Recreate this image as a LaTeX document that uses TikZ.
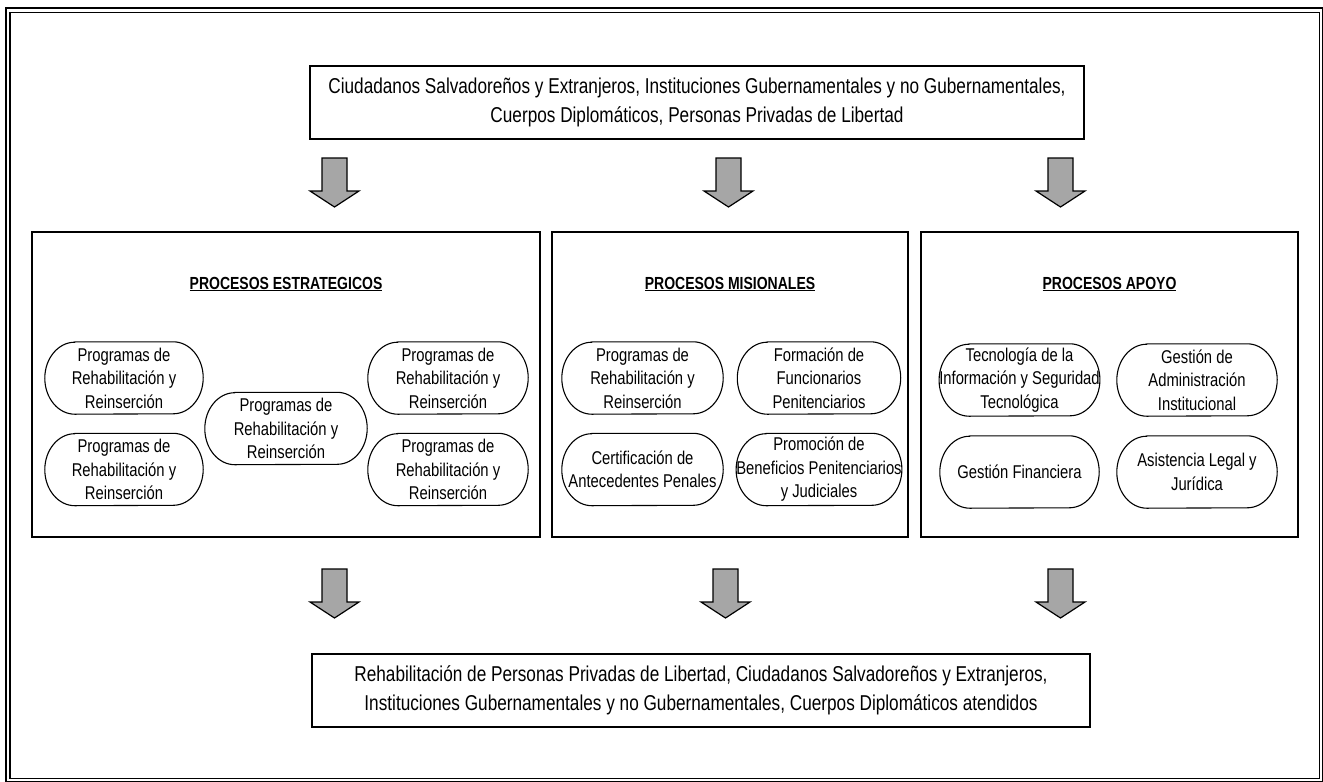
\documentclass[tikz,border=0pt]{standalone}
\usepackage{fontspec}
\setmainfont{Liberation Sans}[FakeStretch=0.80]
\definecolor{arrowgray}{HTML}{A6A6A6}
% stadium outline with elliptic ends around a process node
\newcommand\stadium[1]{%
  \draw[procline] ([xshift=30pt]#1.north west) -- ([xshift=-30pt]#1.north east)
    arc[start angle=90,end angle=-90,x radius=30pt,y radius=36pt]
    -- ([xshift=30pt]#1.south west)
    arc[start angle=270,end angle=90,x radius=30pt,y radius=36pt] -- cycle;}
\begin{document}
\begin{tikzpicture}[x=1pt,y=-1pt,
  frameline/.style={draw=black,line width=1.2pt},
  bigbox/.style={draw=black,line width=1.2pt,align=center,inner sep=0pt,
    font=\fontsize{21.5}{29.5}\selectfont},
  groupbox/.style={draw=black,line width=1.2pt,inner sep=0pt},
  grouptitle/.style={inner sep=0pt,font=\fontsize{17.5}{20}\selectfont\bfseries},
  proc/.style={align=center,inner sep=0pt,minimum height=72pt,
    font=\fontsize{18.5}{23.5}\selectfont},
  procline/.style={draw=black,line width=1.1pt},
  downarrow/.pic={
    \draw[fill=arrowgray,line width=1.2pt,line join=miter]
      (-12.5,0) -- (12.5,0) -- (12.5,33) -- (24.5,33) -- (0,49)
      -- (-24.5,33) -- (-12.5,33) -- cycle;}
]
\useasboundingbox (0,0) rectangle (1323,782);

% double outer frame
\draw[frameline] (6,8) rectangle (1322.3,781.3);
\draw[frameline] (10,12.5) rectangle (1319.5,778.5);

% input and output boxes
\node[bigbox,minimum width=774pt,minimum height=73pt] (src) at (697,102.5)
  {Ciudadanos Salvadoreños y Extranjeros, Instituciones Gubernamentales y no Gubernamentales,\\
   Cuerpos Diplomáticos, Personas Privadas de Libertad};
\node[bigbox,minimum width=778pt,minimum height=73pt] (dst) at (701,690.5)
  {Rehabilitación de Personas Privadas de Libertad, Ciudadanos Salvadoreños y Extranjeros,\\
   Instituciones Gubernamentales y no Gubernamentales, Cuerpos Diplomáticos atendidos};

% block arrows
\pic (ta1) at (334.5,158) {downarrow};
\pic (ta2) at (728.5,158) {downarrow};
\pic (ta3) at (1060.5,158) {downarrow};
\pic (ba1) at (334.5,569) {downarrow};
\pic (ba2) at (725.5,569) {downarrow};
\pic (ba3) at (1060.5,569) {downarrow};

% process groups
\node[groupbox,minimum width=508pt,minimum height=305pt] (gE) at (286,384.5) {};
\node[groupbox,minimum width=356pt,minimum height=305pt] (gM) at (730,384.5) {};
\node[groupbox,minimum width=377pt,minimum height=305pt] (gA) at (1109.5,384.5) {};

\node[grouptitle] (tE) at (286,284) {\underline{PROCESOS ESTRATEGICOS}};
\node[grouptitle] (tM) at (730,284) {\underline{PROCESOS MISIONALES}};
\node[grouptitle] (tA) at (1109.5,284) {\underline{PROCESOS APOYO}};

% strategic processes
\node[proc,minimum width=158pt] (e1) at (124,378) {Programas de\\Rehabilitación y\\Reinserción};
\node[proc,minimum width=158pt] (e2) at (124,469.5) {Programas de\\Rehabilitación y\\Reinserción};
\node[proc,minimum width=162pt] (e3) at (286,428.5) {Programas de\\Rehabilitación y\\Reinserción};
\node[proc,minimum width=160pt] (e4) at (448,378) {Programas de\\Rehabilitación y\\Reinserción};
\node[proc,minimum width=160pt] (e5) at (448,469.5) {Programas de\\Rehabilitación y\\Reinserción};

% missional processes
\node[proc,minimum width=161pt] (m1) at (642.5,378) {Programas de\\Rehabilitación y\\Reinserción};
\node[proc,minimum width=163pt] (m2) at (819,378) {Formación de\\Funcionarios\\Penitenciarios};
\node[proc,minimum width=161pt] (m3) at (642.5,469.5) {Certificación de\\Antecedentes Penales};
\node[proc,minimum width=163pt] (m4) at (819,469.5) {Promoción de\\Beneficios Penitenciarios\\y Judiciales};

% support processes
\node[proc,minimum width=159pt] (s1) at (1019.5,380) {Tecnología de la\\Información y Seguridad\\Tecnológica};
\node[proc,minimum width=160pt] (s2) at (1197,380) {Gestión de\\Administración\\Institucional};
\node[proc,minimum width=159pt] (s3) at (1019.5,472) {Gestión Financiera};
\node[proc,minimum width=160pt] (s4) at (1197,472) {Asistencia Legal y\\Jurídica};

\foreach \n in {e1,e2,e3,e4,e5,m1,m2,m3,m4,s1,s2,s3,s4} {\stadium{\n}}
\end{tikzpicture}
\end{document}
